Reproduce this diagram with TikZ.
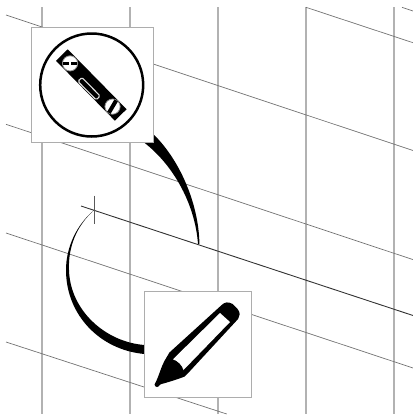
\documentclass[tikz,border=0pt]{standalone}
\tikzset{
  gridv/.style={draw=black!30,line width=1.2pt},
  grids/.style={draw=black!55,line width=0.7pt},
  datum/.style={draw=black!80,line width=0.9pt},
  tick/.style={draw=black!65,line width=0.9pt},
  iconbox/.style={draw=black!32,line width=0.9pt,fill=white,inner sep=0pt,outer sep=0pt},
  taper/.style={fill=black,draw=none},
  vial/.style={fill=white,draw=black!45,line width=0.8pt},
}
\begin{document}
\begin{tikzpicture}[x=1pt,y=-1pt]
\useasboundingbox (0,0) rectangle (413,416);
% vertical grid
\foreach \gx in {42,130,218,306,394} \draw[gridv] (\gx,7) -- (\gx,414);
% slanted grid
\draw[grids] (6,15) -- (413,150.5);
\draw[grids] (6,124.3) -- (413,259.6);
\draw[grids] (6,233) -- (413,368);
\draw[grids] (6,342) -- (226.7,414);
\draw[grids] (306,7.3) -- (413,42.7);
\draw[grids] (402,7.3) -- (413,11);
% datum line and tick
\coordinate (datumstart) at (81,206);
\coordinate (datumend) at (413,315.5);
\coordinate (ticktop) at (94.5,195.5);
\coordinate (tickbot) at (94.5,224);
\draw[datum] (datumstart) -- (datumend);
\draw[tick] (ticktop) -- (tickbot);
% tapered connectors
\coordinate (levelto) at (199,244);
\coordinate (penfrom) at (94.3,210);
\fill[taper] (150,131) .. controls (180,158) and (199,205) .. (199.4,244)
  -- (198,244) .. controls (195,203) and (172,162) .. (140,139.5) -- cycle;
\fill[taper] (penfrom) .. controls (76,225) and (66,248) .. (66,270)
  .. controls (66,315) and (100,350) .. (144.5,354)
  -- (144.5,345) .. controls (105,342) and (70,310) .. (69,270)
  .. controls (68,248) and (76,226) .. (penfrom) -- cycle;
% level icon
\node[iconbox,minimum width=122pt,minimum height=114.6pt] (levelbox) at (92.3,85) {};
\draw[black,line width=2.5pt] (91.7,85) circle[radius=51.5];
\begin{scope}[shift={(91.3,85)},rotate=-45.5]
  \fill[black] (-42,-8.2) rectangle (42,8.2);
  \draw[draw=black!12,line width=1.1pt,rounded corners=1.5pt] (-12,1.4) rectangle (14,7);
  \draw[vial] (-30.3,0) circle[radius=7.6];
  \draw[vial] (30.3,0) circle[radius=7.6];
  \begin{scope}[shift={(-30.3,0)},rotate=45.5]
    \fill[black] (-7.2,-1.7) rectangle (-1.2,1.7);
    \fill[black] (1.2,-1.7) rectangle (7.2,1.7);
  \end{scope}
  \begin{scope}[shift={(30.3,0)},rotate=105]
    \fill[black] (-7.2,-2) rectangle (7.2,2);
  \end{scope}
\end{scope}
% pen icon
\node[iconbox,minimum width=107.4pt,minimum height=105.6pt] (penbox) at (198,344.5) {};
\fill[black,draw=black,line width=1.5pt,line join=round]
  (156,383.5) .. controls (160,375) and (162,367) .. (165,361.5)
  -- (170,353) -- (221.7,306)
  .. controls (225,302.5) and (228,302.5) .. (232,304.5)
  -- (237,309.5) .. controls (239.5,312.5) and (239.5,316) .. (237.5,318.5)
  -- (189,371) -- (184,376) .. controls (176,379) and (168,381.5) .. (160.5,383.5)
  -- (158,385.5) -- cycle;
\fill[black] (157,384.6) circle[radius=2.4];
\fill[white] (173,359.3) -- (220,313) -- (230,322) -- (183.5,370)
  .. controls (182,365) and (178,361) .. (173,359.3) -- cycle;
\end{tikzpicture}
\end{document}
